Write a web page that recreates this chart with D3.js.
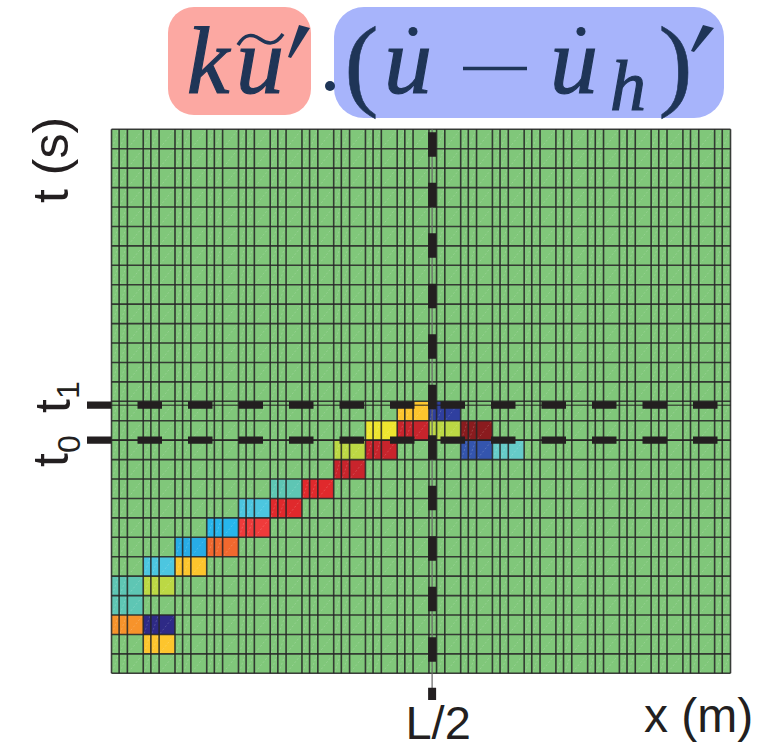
<!DOCTYPE html>
<html>
<head>
<meta charset="utf-8">
<script src="https://cdn.jsdelivr.net/npm/d3@7"></script>
<style>
  html, body { margin: 0; padding: 0; background: #fff; }
  svg { display: block; }
</style>
</head>
<body>
<div id="chart"></div>
<script>
// Mesh: 28 time steps, 19.5 elements along x (last one cut at its midpoint)
const nTimeSteps   = 28;
const nElements    = 19.5;
const nodeFracs    = [0, 0.24, 0.5];     // inner node lines of each element
const tMarks       = [12, 13.8];         // t0, t1 (in time steps)
const tMarkLabels  = ['0', '1'];
const xHalf        = 10.1;               // L/2 (in element units)

// [time step, element, value]  — everything else is 0
const hotCells = [
    [13,  9,  0.45], [13, 10, -0.85],
    [12,  8,  0.30], [12,  9,  0.90], [12, 10,  0.15], [12, 11,  1.00],
    [11,  7,  0.15], [11,  8,  0.90], [11, 11, -0.70], [11, 12, -0.25],
    [10,  7,  0.90],
    [ 9,  5, -0.15], [ 9,  6,  0.82],
    [ 8,  4, -0.35], [ 8,  5,  0.82],
    [ 7,  3, -0.50], [ 7,  4,  0.78],
    [ 6,  2, -0.52], [ 6,  3,  0.70],
    [ 5,  1, -0.35], [ 5,  2,  0.45],
    [ 4,  0, -0.15], [ 4,  1,  0.15],
    [ 3,  0, -0.15],
    [ 2,  0,  0.60], [ 2,  1, -1.00],
    [ 1,  1,  0.45]
];

const colorDomain = [-1, -0.85, -0.7, -0.5, -0.35, -0.25, -0.15, 0, 0.15, 0.3, 0.45, 0.6, 0.7, 0.78, 0.82, 0.9, 1];
const colorRange  = ['#2e2a86', '#2f3f9f', '#3455ae', '#27b6ec', '#4cc6e0', '#66cbc9', '#5ec6b4', '#80c77a',
                     '#bcd844', '#eee52f', '#fdc52d', '#f7932b', '#f1682e', '#ef3b3b', '#e0292c', '#c8242c', '#8a1b1e'];

const W = 775, H = 750;
const color = d3.scaleLinear().domain(colorDomain).range(colorRange);
const x = d3.scaleLinear().domain([0, nElements]).range([111.5, 730.5]);
const y = d3.scaleLinear().domain([0, nTimeSteps]).range([673.3, 129.3]);

const svg = d3.select('#chart').append('svg')
    .attr('width', W).attr('height', H)
    .style('background', '#fff');

// ---- cells
const hot = new Map(hotCells.map(d => [d[0] + ':' + d[1], d[2]]));
const cells = [];
for (let k = 0; k < nTimeSteps; k++) {
    for (let e = 0; e < Math.ceil(nElements); e++) {
        cells.push({ k, e, v: hot.get(k + ':' + e) || 0 });
    }
}

const gCells = svg.append('g');
gCells.selectAll('rect').data(cells).join('rect')
    .attr('x', d => x(d.e))
    .attr('y', d => y(d.k + 1))
    .attr('width', d => x(Math.min(d.e + 1, nElements)) - x(d.e))
    .attr('height', d => y(d.k) - y(d.k + 1))
    .attr('fill', d => color(d.v));

// faint diagonal seams of the triangulated mesh
const subCols = [];
for (let e = 0; e < Math.ceil(nElements); e++) {
    const fr = nodeFracs.concat([1]);
    for (let i = 0; i < fr.length - 1; i++) {
        const a = e + fr[i], b = Math.min(e + fr[i + 1], nElements);
        if (a < nElements) subCols.push([a, b]);
    }
}
const diag = [];
for (let k = 0; k < nTimeSteps; k++) subCols.forEach(s => diag.push({ k, a: s[0], b: s[1] }));
gCells.append('g').selectAll('line').data(diag).join('line')
    .attr('x1', d => x(d.a) + 1).attr('y1', d => y(d.k) - 1)
    .attr('x2', d => x(d.b) - 1).attr('y2', d => y(d.k + 1) + 1)
    .attr('stroke', '#fff').attr('stroke-opacity', 0.22)
    .attr('stroke-width', 0.8).attr('stroke-dasharray', '2,2');

// ---- mesh lines
const vLines = [];
for (let e = 0; e < Math.ceil(nElements); e++) {
    nodeFracs.forEach(f => { if (e + f <= nElements) vLines.push(e + f); });
}
const gGrid = svg.append('g')
    .attr('stroke', '#262626').attr('stroke-width', 1.6).attr('stroke-opacity', 0.88);
gGrid.selectAll('line.v').data(vLines).join('line').attr('class', 'v')
    .attr('x1', d => x(d)).attr('x2', d => x(d))
    .attr('y1', y(nTimeSteps)).attr('y2', y(0));
gGrid.selectAll('line.h').data(d3.range(nTimeSteps + 1)).join('line').attr('class', 'h')
    .attr('y1', d => y(d)).attr('y2', d => y(d))
    .attr('x1', x(0)).attr('x2', x(nElements));

// ---- t0 / t1 markers
const ink = '#231f20';
tMarks.forEach(t => {
    svg.append('line')
        .attr('x1', x(0)).attr('x2', x(nElements))
        .attr('y1', y(t)).attr('y2', y(t))
        .attr('stroke', ink).attr('stroke-width', 1);
    svg.append('line')
        .attr('x1', 87).attr('x2', x(nElements))
        .attr('y1', y(t)).attr('y2', y(t))
        .attr('stroke', ink).attr('stroke-width', 7.3)
        .attr('stroke-dasharray', '24.5,26');
});

// ---- L/2 marker
svg.append('line')
    .attr('x1', x(xHalf)).attr('x2', x(xHalf))
    .attr('y1', y(nTimeSteps)).attr('y2', 700)
    .attr('stroke', '#666').attr('stroke-width', 1.2);
svg.append('line')
    .attr('x1', x(xHalf)).attr('x2', x(xHalf))
    .attr('y1', 132.3).attr('y2', 700)
    .attr('stroke', ink).attr('stroke-width', 8)
    .attr('stroke-dasharray', '24.5,26');

// ---- axis labels
const sans = 'Liberation Sans, Arial, Helvetica, sans-serif';
svg.append('text')
    .attr('transform', 'translate(67.5,160) rotate(-90)')
    .attr('text-anchor', 'middle')
    .style('font-family', sans).style('font-size', '50px').style('fill', ink)
    .text('t (s)');

const tLabelPos = [[68, 467, 12], [70, 413, 9]];
tMarks.forEach((t, i) => {
    const p = tLabelPos[i];
    const tx = svg.append('text')
        .attr('transform', `translate(${p[0]},${p[1]}) rotate(-90)`)
        .style('font-family', sans).style('font-size', '50px').style('fill', ink);
    tx.append('tspan').text('t');
    tx.append('tspan').attr('dy', p[2]).style('font-size', '32px').text(tMarkLabels[i]);
});

svg.append('text')
    .attr('x', x(xHalf) + 6).attr('y', 739)
    .attr('text-anchor', 'middle')
    .style('font-family', sans).style('font-size', '47px').style('fill', ink)
    .text('L/2');

svg.append('text')
    .attr('x', 644).attr('y', 732)
    .style('font-family', sans).style('font-size', '48px').style('fill', ink)
    .text('x (m)');

// ---- formula header
const navy  = '#1f3557';
const serif = 'Liberation Serif, Times New Roman, serif';
const hdr = svg.append('g');

hdr.append('rect').attr('x', 168).attr('y', 7).attr('width', 143).attr('height', 108)
    .attr('rx', 26).attr('fill', '#fca8a2');
hdr.append('rect').attr('x', 334).attr('y', 7).attr('width', 390).attr('height', 111)
    .attr('rx', 30).attr('fill', '#a7b4fb');

const glyph = (txt, cx, by, size, italic) => hdr.append('text')
    .attr('x', cx).attr('y', by).attr('text-anchor', 'middle')
    .style('font-family', serif).style('font-size', size + 'px')
    .style('font-style', italic ? 'italic' : 'normal')
    .style('fill', navy).style('stroke', navy).style('stroke-width', italic ? 1.2 : 0.6)
    .text(txt);

glyph('k', 208, 93, 96, true);
glyph('u', 260, 93, 96, true);
glyph('(', 361.5, 97, 102, false);
glyph('u', 408, 93, 96, true);
glyph('u', 574, 93, 96, true);
glyph('h', 628, 110, 72, true);
glyph(')', 675.5, 97, 102, false);

// tilde, primes, dots, minus
hdr.append('path')
    .attr('d', 'M238,45 C245,33 253,34 260,39 C267,44 275,46 283,34')
    .attr('fill', 'none').attr('stroke', navy).attr('stroke-width', 3.5);
hdr.append('path').attr('d', 'M299,25 L310,28 L291,58 L288,57 Z').attr('fill', navy);
hdr.append('path').attr('d', 'M703,25 L714,28 L694,52 L691,51 Z').attr('fill', navy);
hdr.append('circle').attr('cx', 330).attr('cy', 86).attr('r', 5).attr('fill', navy);
hdr.append('circle').attr('cx', 413).attr('cy', 31.5).attr('r', 4.5).attr('fill', navy);
hdr.append('circle').attr('cx', 581).attr('cy', 31.5).attr('r', 4.5).attr('fill', navy);
hdr.append('line').attr('x1', 463).attr('x2', 527).attr('y1', 68.5).attr('y2', 68.5)
    .attr('stroke', navy).attr('stroke-width', 3.5);
</script>
</body>
</html>
